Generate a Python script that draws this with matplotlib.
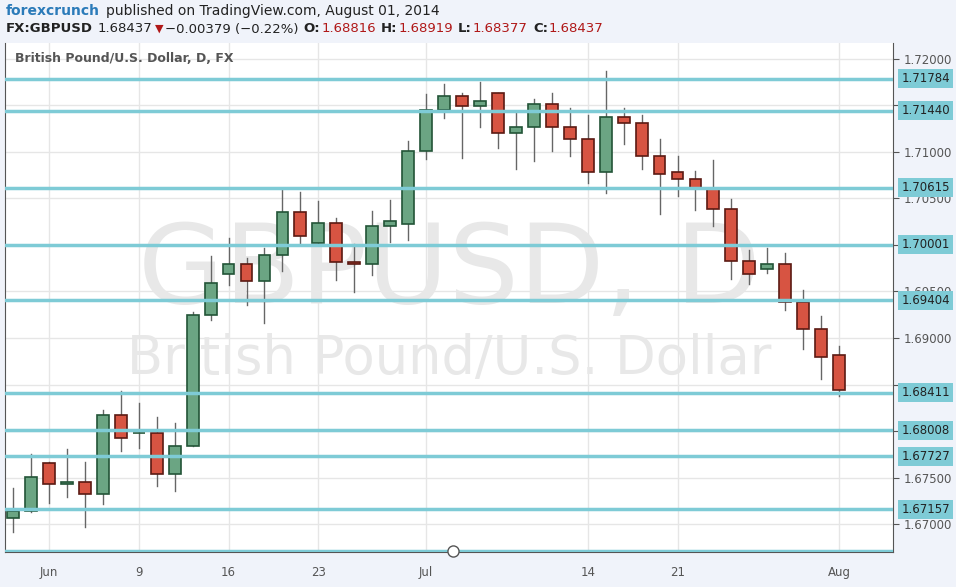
import matplotlib
matplotlib.use("Agg")
import matplotlib.pyplot as plt
from matplotlib.patches import Rectangle

opens  = [1.67069,1.67144,1.67660,1.67434,1.67456,1.67327,1.68175,1.67975,1.67982,1.67542,
          1.67842,1.69249,1.69690,1.69797,1.69614,1.69894,1.70355,1.70022,1.70237,1.69818,
          1.69797,1.70205,1.70227,1.71011,1.71451,1.71601,1.71494,1.71633,1.71204,1.71268,
          1.71515,1.71268,1.71139,1.70785,1.71376,1.71311,1.70957,1.70785,1.70710,1.70602,
          1.70388,1.69829,1.69743,1.69797,1.69389,1.69099,1.68816]
highs  = [1.67391,1.67756,1.67670,1.67810,1.67670,1.68229,1.68433,1.68304,1.68154,1.68089,
          1.69281,1.69883,1.70076,1.69861,1.69969,1.70592,1.70570,1.70474,1.70291,1.70012,
          1.70366,1.70484,1.71118,1.71623,1.71730,1.71633,1.71752,1.71633,1.71440,1.71569,
          1.71633,1.71472,1.71397,1.71870,1.71472,1.71397,1.71139,1.70957,1.70796,1.70914,
          1.70495,1.69947,1.69969,1.69915,1.69518,1.69238,1.68919]
lows   = [1.66919,1.67133,1.67230,1.67295,1.66972,1.67219,1.67789,1.67821,1.67413,1.67359,
          1.67842,1.69195,1.69571,1.69357,1.69163,1.69722,1.70002,1.70012,1.69625,1.69496,
          1.69679,1.70033,1.70055,1.70925,1.71365,1.70935,1.71268,1.71043,1.70817,1.70903,
          1.71011,1.70957,1.70667,1.70559,1.71086,1.70817,1.70334,1.70527,1.70377,1.70205,
          1.69636,1.69582,1.69700,1.69303,1.68884,1.68562,1.68377]
closes = [1.67144,1.67509,1.67434,1.67456,1.67327,1.68175,1.67928,1.67982,1.67542,1.67842,
          1.69249,1.69593,1.69797,1.69614,1.69894,1.70355,1.70098,1.70237,1.69818,1.69797,
          1.70205,1.70259,1.71011,1.71451,1.71601,1.71494,1.71548,1.71204,1.71268,1.71515,
          1.71268,1.71139,1.70785,1.71376,1.71311,1.70957,1.70764,1.70710,1.70602,1.70388,
          1.69829,1.69690,1.69797,1.69389,1.69099,1.68798,1.68437]
levels = [1.71784,1.71440,1.70615,1.70001,1.69404,1.68411,1.68008,1.67727,1.67157]
xtick_idx = [2,7,12,17,23,32,37,46]
xtick_labels = ["Jun","9","16","23","Jul","14","21","Aug"]
yticks = [1.670,1.675,1.680,1.685,1.690,1.695,1.700,1.705,1.710,1.715,1.720]

W,H = 956,587
fig = plt.figure(figsize=(W/100,H/100), dpi=100, facecolor="#f0f3fa")
ax = fig.add_axes([5/W, (H-552)/H, 888/W, 509/H])
ax.set_facecolor("white")
ymin, ymax = 1.6670, 1.7217
ax.set_ylim(ymin, ymax)
ax.set_xlim(-0.45, 49.0)

for t in yticks:
    ax.axhline(t, color="#e6e6e6", lw=1, zorder=0)
for i in xtick_idx:
    ax.axvline(i, color="#e6e6e6", lw=1, zorder=0)

ax.text(0.5, 0.55, "GBPUSD, D", transform=ax.transAxes, ha="center", va="center",
        fontsize=80, color="#e8e8e8", zorder=0.5)
ax.text(0.5, 0.38, "British Pound/U.S. Dollar", transform=ax.transAxes, ha="center",
        va="center", fontsize=38, color="#e8e8e8", zorder=0.5)

for i,(o,h,l,c) in enumerate(zip(opens,highs,lows,closes)):
    up = c >= o
    fc = "#6ba583" if up else "#d75442"
    ec = "#225437" if up else "#5b1a13"
    ax.plot([i,i],[l,h], color="#666666", lw=1, zorder=2)
    b = min(o,c); hgt = max(abs(c-o), 0.00004)
    ax.add_patch(Rectangle((i-0.33,b),0.66,hgt, facecolor=fc, edgecolor=ec, lw=1.2, zorder=3))

for lv in levels:
    ax.axhline(lv, color="#7ecbd6", lw=2.5, zorder=4)
ax.axhline(ymin+0.00008, color="#7ecbd6", lw=2.5, zorder=4)
ax.plot([24.5],[ymin+0.00008], marker="o", ms=8, mfc="white", mec="#555555", zorder=5, clip_on=False)

ax.yaxis.tick_right()
ax.set_yticks(yticks)
hidden = {1.685, 1.700, 1.715}
ax.set_yticklabels(["" if round(t,3) in hidden else f"{t:.5f}" for t in yticks],
                   fontsize=8.5, color="#555555")
ax.tick_params(axis="y", length=4, color="#555555", pad=4)
ax.set_xticks(xtick_idx)
ax.set_xticklabels(xtick_labels, fontsize=8.5, color="#555555")
ax.tick_params(axis="x", length=0, pad=10)
ax.spines["top"].set_visible(False)
for s in ["left","right","bottom"]:
    ax.spines[s].set_color("#555555")

for lv in levels:
    ax.annotate(f"{lv:.5f}", xy=(1.0, lv), xycoords=("axes fraction","data"), xytext=(6,0),
                textcoords="offset points", va="center", ha="left", fontsize=8.5, color="#222222",
                bbox=dict(boxstyle="square,pad=0.25", fc="#7ecbd6", ec="none"), zorder=6)

ax.text(10/888, 1-16/509, "British Pound/U.S. Dollar, D, FX", transform=ax.transAxes,
        fontsize=9, weight="bold", color="#555555", va="center")

# header texts placed sequentially
renderer = fig.canvas.get_renderer()
def chain(items, x, y):
    for txt, kw, gap in items:
        t = fig.text(x/W, 1-y/H, txt, va="center", **kw)
        bb = t.get_window_extent(renderer)
        x = bb.x1 + gap
chain([("forexcrunch", dict(fontsize=10, weight="bold", color="#2b7bb9"), 6),
       ("published on TradingView.com, August 01, 2014", dict(fontsize=10, color="#222222"), 0)], 6, 11)
items = [("FX:GBPUSD", dict(fontsize=9.5, weight="bold", color="#222222"), 5),
         ("1.68437", dict(fontsize=9.5, color="#222222"), 2),
         ("\u25bc", dict(fontsize=8, color="#b01818"), 2),
         ("\u22120.00379 (\u22120.22%)", dict(fontsize=9.5, color="#222222"), 5)]
for lab,val in [("O:","1.68816"),("H:","1.68919"),("L:","1.68377"),("C:","1.68437")]:
    items.append((lab, dict(fontsize=9.5, weight="bold", color="#222222"), 1))
    items.append((val, dict(fontsize=9.5, color="#b01818"), 5))
chain(items, 6, 29)

fig.savefig("out.png", dpi=100, facecolor=fig.get_facecolor())
